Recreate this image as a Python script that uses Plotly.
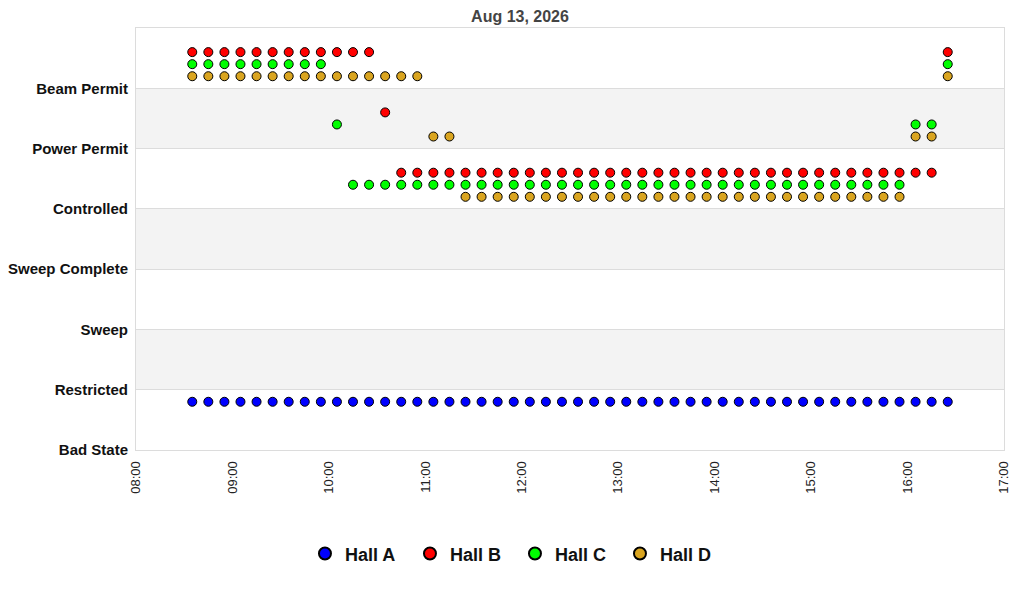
import pandas as pd
import plotly.graph_objects as go

# ── Data ────────────────────────────────────────────────────────────────────
DAY = "2026-08-13"
STATES = ["Bad State", "Restricted", "Sweep", "Sweep Complete",
          "Controlled", "Power Permit", "Beam Permit"]
TIMES = pd.date_range(f"{DAY} 08:35", f"{DAY} 16:25", freq="10min")

BP, PP, CT, RS = "Beam Permit", "Power Permit", "Controlled", "Restricted"
HALL_A = [RS] * 48
HALL_B = [BP] * 12 + [PP] * 1 + [CT] * 34 + [BP] * 1
HALL_C = [BP] * 9 + [PP] * 1 + [CT] * 35 + [PP] * 2 + [BP] * 1
HALL_D = [BP] * 15 + [PP] * 2 + [CT] * 28 + [PP] * 2 + [BP] * 1

HALLS = ["Hall A", "Hall B", "Hall C", "Hall D"]
SERIES = [HALL_A, HALL_B, HALL_C, HALL_D]
OFFSETS = [-0.2, 0.6, 0.4, 0.2]          # vertical stacking inside a band
COLORS = ["#0000ff", "#ff0000", "#00ff00", "#daa520"]

FONT = "Liberation Sans, Arial, sans-serif"

# ── Figure ──────────────────────────────────────────────────────────────────
fig = go.Figure()
for name, states, off, col in zip(HALLS, SERIES, OFFSETS, COLORS):
    fig.add_trace(go.Scatter(
        x=TIMES,
        y=[STATES.index(s) + off for s in states],
        mode="markers",
        name=name,
        marker=dict(size=9, color=col, line=dict(color="#000000", width=1)),
        cliponaxis=False,
    ))

# alternating grey bands
for lo in (1, 3, 5):
    fig.add_shape(type="rect", xref="paper", yref="y", x0=0, x1=1, y0=lo, y1=lo + 1,
                  fillcolor="#f3f3f3", line_width=0, layer="below")

fig.update_xaxes(
    type="date", automargin=False,
    range=[f"{DAY} 08:00", f"{DAY} 17:00"],
    dtick=3600000, tickformat="%H:%M", tickangle=-90,
    showgrid=False, zeroline=False,
    showline=True, mirror=True, linecolor="#dcdcdc", linewidth=1,
    tickfont=dict(family=FONT, size=13, color="#222222"),
    ticklabelstandoff=5,
)
fig.update_yaxes(
    range=[0, 7], automargin=False,
    tickvals=list(range(len(STATES))), ticktext=STATES,
    showgrid=True, gridcolor="#dcdcdc", gridwidth=1, zeroline=False,
    showline=True, mirror=True, linecolor="#dcdcdc", linewidth=1,
    tickfont=dict(family=FONT, size=15, color="#111111", weight="bold"),
    ticklabelstandoff=4,
)
fig.update_layout(
    width=1024, height=600,
    margin=dict(l=128, r=28, t=20, b=158),
    paper_bgcolor="#ffffff", plot_bgcolor="#ffffff",
    title=dict(text="Aug 13, 2026", x=0.5, xanchor="center", y=0.9867, yanchor="middle",
               font=dict(family=FONT, size=16, color="#444444", weight="bold")),
    legend=dict(orientation="h", x=0.4366, xanchor="center",
                y=-0.246, yanchor="middle",
                font=dict(family=FONT, size=18, color="#111111", weight="bold"),
                entrywidth=60, entrywidthmode="pixels", itemsizing="constant"),
    font=dict(family=FONT),
)

fig.write_html("out.html")
